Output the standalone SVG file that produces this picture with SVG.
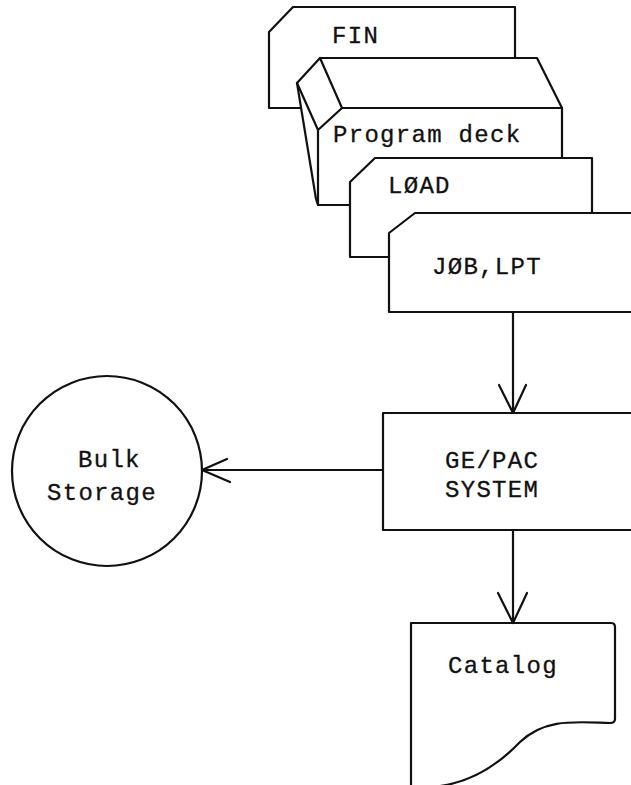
<svg xmlns="http://www.w3.org/2000/svg" width="631" height="785" viewBox="0 0 631 785">
  <style>
    .ln { fill: none; stroke: #111; stroke-width: 2.2; stroke-linejoin: round; stroke-linecap: round; }
    .card { fill: #fff; stroke: #111; stroke-width: 2.2; stroke-linejoin: round; }
    .lbl { font-family: "Liberation Mono", "DejaVu Sans Mono", monospace; font-size: 24px; letter-spacing: 1.3px; fill: #111; stroke: #111; stroke-width: 0.3px; }
  </style>
  <rect width="631" height="785" fill="#fff"/>

  <!-- stacked card deck -->
  <g id="fin">
    <path class="card" d="M269,32 L293,7 H515 V108 H269 Z"/>
    <text class="lbl" x="332" y="43">FIN</text>
  </g>
  <g id="program-deck">
    <path class="card" d="M320,58 H537 L562,108 V205 H318 L316,199 L297,83 Z"/>
    <path class="ln" d="M320,58 L342,108 H562 M297,83 L318,130 L342,108 M318,130 V205"/>
    <text class="lbl" x="333" y="142">Program deck</text>
  </g>
  <g id="load">
    <path class="card" d="M350,182 L375,158 H592 V257 H350 Z"/>
    <text class="lbl" x="388" y="193">LØAD</text>
  </g>
  <g id="job-lpt">
    <path class="card" d="M389,233 L415,213 H645 V312 H389 Z"/>
    <text class="lbl" x="432" y="274">JØB,LPT</text>
  </g>

  <!-- processing box -->
  <g id="gepac">
    <rect class="card" x="383" y="413" width="270" height="117"/>
    <text class="lbl" x="445" y="468">GE/PAC</text>
    <text class="lbl" x="445" y="497">SYSTEM</text>
  </g>

  <!-- storage -->
  <g id="bulk-storage">
    <circle class="card" cx="107" cy="471" r="95"/>
    <text class="lbl" x="78" y="467">Bulk</text>
    <text class="lbl" x="47" y="500">Storage</text>
  </g>

  <!-- printed output -->
  <g id="catalog">
    <path class="card" d="M411,623 H611 Q615,623 615,627 V719 Q615,723 610,723 C575,722 545,718 520,742 C495,768 470,782 440,786 L411,790 Z"/>
    <text class="lbl" x="448" y="673">Catalog</text>
  </g>

  <!-- connectors -->
  <g id="connectors" class="ln">
    <path d="M513,312 V413 M499,385 L513,413 L526,385"/>
    <path d="M383,470 H202 M227,459 L202,470 L230,482"/>
    <path d="M513,530 V623 M498,593 L513,623 L527,593"/>
  </g>
</svg>
